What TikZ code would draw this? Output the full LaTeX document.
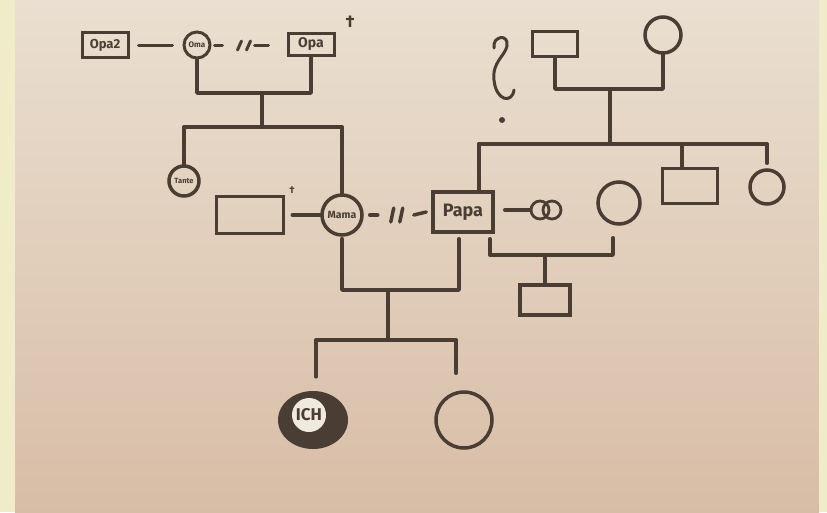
\documentclass[tikz,border=0pt]{standalone}
\usepackage{fontspec}
\setmainfont{Fira Sans}
\usetikzlibrary{calc,shapes.geometric}
\definecolor{ink}{HTML}{4A3D33}
\definecolor{paperTop}{HTML}{EADFD0}
\definecolor{paperBot}{HTML}{D8BDA6}
\definecolor{strip}{HTML}{F0EBC9}
\tikzset{
  lnk/.style={draw=ink, line width=3.5pt, line cap=round, line join=round},
  mbox/.style={draw=ink, rectangle, line width=3.5pt, inner sep=0pt, text=ink},
  fcirc/.style={draw=ink, circle, line width=3.5pt, inner sep=0pt, text=ink},
  lbl/.style={font=\bfseries\fontsize{#1}{#1}\selectfont},
  dagmark/.style={text=ink, inner sep=0pt}
}
\begin{document}
\begin{tikzpicture}[x=1pt,y=-1pt]
\useasboundingbox (0,0) rectangle (827,512);
\shade[top color=paperTop, bottom color=paperBot] (15,0) rectangle (819,512);
\fill[strip] (0,0) rectangle (15,512);
\fill[strip] (819,0) rectangle (827,512);

% ---- maternal grandparents
\node[mbox, minimum width=46pt, minimum height=25pt, line width=3pt, lbl=13] (opa2) at (105,45) {Opa2};
\node[fcirc, minimum size=26pt, line width=3pt, lbl=8] (oma) at (197,45) {Oma};
\node[mbox, minimum width=46pt, minimum height=22pt, line width=3pt, lbl=14] (opa) at (311,44) {Opa};
\node[dagmark, lbl=17] (dag1) at (350,22) {\dag};

\draw[lnk, line width=3pt, shorten <=9pt, shorten >=10pt] (opa2) -- (oma);
% divorced: - // -
\draw[lnk, line width=3pt] ($(oma.east)+(3,0)$) -- ++(8,0);
\draw[lnk, line width=3pt] ($(oma.east)+(26,5)$) -- ++(4,-9);
\draw[lnk, line width=3pt] ($(oma.east)+(35,5)$) -- ++(4,-9);
\draw[lnk, line width=3pt] ($(oma.east)+(43,0)$) -- ++(14,0);

\coordinate (c1) at (262,93);
\coordinate (s1) at (262,127);
\draw[lnk] (oma.south) -- (oma.south |- c1) -- (opa.south |- c1) -- (opa.south);
\draw[lnk] (c1) -- (s1);

% ---- mother's generation
\node[fcirc, minimum size=30pt, lbl=7.5] (tante) at (184,181) {Tante};
\node[fcirc, minimum size=40pt, lbl=10.5] (mama) at (342,215) {Mama};
\node[mbox, minimum width=67pt, minimum height=37pt] (ex) at (250,215) {};
\node[dagmark, lbl=10] (dag2) at (292,190) {\dag};
\node[mbox, minimum width=60pt, minimum height=40pt, lbl=18] (papa) at (463,212) {Papa};

\draw[lnk] (tante.north |- s1) -- (mama.north |- s1);
\draw[lnk] (tante.north |- s1) -- (tante.north);
\draw[lnk] (mama.north |- s1) -- (mama.north);

\draw[lnk, shorten <=7pt] (ex) -- (mama);
% divorced Mama - // - Papa
\draw[lnk] ($(mama.east)+(6,0)$) -- ++(8,0);
\draw[lnk] ($(mama.east)+(27,7)$) -- ++(3,-14);
\draw[lnk] ($(mama.east)+(36,7)$) -- ++(3,-14);
\draw[lnk] ($(mama.east)+(50,0)$) -- ($(papa.west)+(-5,0)$);

% ---- paternal grandparents
\node[mbox, minimum width=45pt, minimum height=25pt] (pgf) at (555,44) {};
\node[fcirc, minimum size=36pt] (pgm) at (663,35) {};
\coordinate (c3) at (610,89);
\coordinate (s3) at (610,144);
\draw[lnk] (pgf.south) -- (pgf.south |- c3) -- (pgm.south |- c3) -- (pgm.south);
\draw[lnk] (c3) -- (s3);

% question mark
\draw[lnk, line width=3pt] (494,48) .. controls (492,36) and (509,33) .. (507,46)
  .. controls (505,56) and (492,62) .. (494,80)
  .. controls (496,101) and (512,104) .. (514,90);
\fill[ink] (502,120) circle (3pt);

% ---- father's siblings
\node[mbox, minimum width=55pt, minimum height=35pt] (bro) at (690,186) {};
\node[fcirc, minimum size=34pt] (sis) at (767,187) {};
\coordinate (pdrop) at ($(papa.north east)+(-16,0)$);
\coordinate (bdrop) at ($(bro.north)+(-8,0)$);
\coordinate (sdrop) at ($(sis.north)+(0,-5)$);
\draw[lnk] (pdrop |- s3) -- (sdrop |- s3);
\draw[lnk] (pdrop |- s3) -- (pdrop);
\draw[lnk] (bdrop |- s3) -- (bdrop);
\draw[lnk] (sdrop |- s3) -- (sdrop);

% ---- Papa's second partner
\node[fcirc, minimum size=42pt] (wife2) at (619,203) {};
\node[draw=ink, circle, line width=2.8pt, minimum size=18pt, inner sep=0pt] (ringA) at (540,210) {};
\node[draw=ink, circle, line width=2.8pt, minimum size=18pt, inner sep=0pt] (ringB) at (552,210) {};
\draw[lnk] ($(papa.east)+(10,-2)$) -- (ringA.west);

\node[mbox, minimum width=50pt, minimum height=30pt] (half) at (545,300) {};
\coordinate (c4) at (545,255);
\coordinate (pd2) at ($(papa.south east)+(-5,5)$);
\coordinate (wd2) at ($(wife2.south)+(-6,12)$);
\draw[lnk] (pd2) -- (pd2 |- c4) -- (wd2 |- c4) -- (wd2);
\draw[lnk] (c4) -- (half.north);

% ---- children of Mama and Papa
\node[fill=ink, ellipse, minimum width=70pt, minimum height=58pt, inner sep=0pt] (ichring) at (313,420) {};
\node[circle, fill=paperTop!70!white, minimum size=34pt, inner sep=0pt, text=ink, font=\bfseries\fontsize{17}{17}\selectfont] (ich) at (309,415) {ICH};
\node[fcirc, minimum size=56pt] (sis2) at (464,420) {};

\coordinate (c2) at (388,290);
\coordinate (s2) at (388,340);
\coordinate (pd3) at ($(papa.south)+(-4,5)$);
\coordinate (md3) at ($(mama.south)+(0,2)$);
\coordinate (id) at ($(ichring.north)+(3,-14)$);
\coordinate (zd) at ($(sis2.north)+(-8,-17)$);
\draw[lnk] (md3) -- (md3 |- c2) -- (pd3 |- c2) -- (pd3);
\draw[lnk] (c2) -- (s2);
\draw[lnk] (id |- s2) -- (zd |- s2);
\draw[lnk] (id |- s2) -- (id);
\draw[lnk] (zd |- s2) -- (zd);
\end{tikzpicture}
\end{document}
